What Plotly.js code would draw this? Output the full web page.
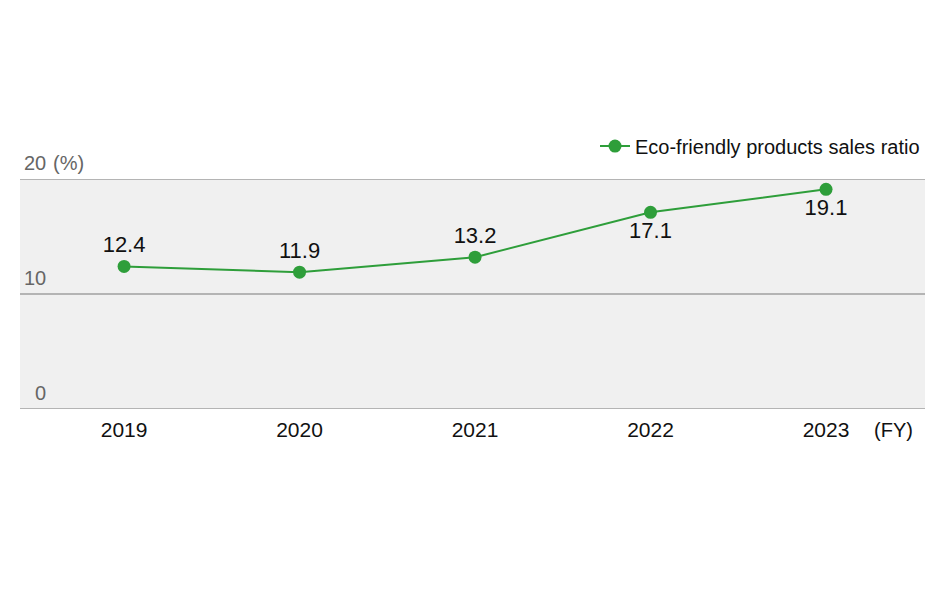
<!DOCTYPE html>
<html><head><meta charset="utf-8">
<script src="https://cdn.plot.ly/plotly-3.0.1.min.js"></script>
<style>body{margin:0;background:#fff}#c{width:940px;height:600px}</style>
</head><body><div id="c"></div>
<script>
const years = ['2019','2020','2021','2022','2023'];
const ratio = [12.4, 11.9, 13.2, 17.1, 19.1];
const ratioLabels = ['12.4','11.9','13.2','17.1','19.1'];
const labelPos = ['top center','top center','top center','bottom center','bottom center'];
const yTicks = [0, 10, 20];
const yTickText = ['0', '10', '20'];
const yUnit = '(%)';
const xUnit = '(FY)';
const seriesName = 'Eco-friendly products sales ratio';
const green = '#2e9e3a';
const font = 'Liberation Sans, Arial, Helvetica, sans-serif';

const trace = {
  x: years, y: ratio, type: 'scatter', mode: 'lines+markers+text',
  name: seriesName,
  text: ratioLabels, textposition: labelPos,
  textfont: {size: 22, color: '#111', family: font},
  line: {color: green, width: 2},
  marker: {color: green, size: 13},
  hoverinfo: 'skip', cliponaxis: false
};

const shapes = yTicks.map(v => ({
  type: 'line', xref: 'paper', yref: 'y', x0: 0, x1: 1, y0: v, y1: v,
  line: {color: '#a0a0a0', width: 1.5}, layer: 'above'
}));

const lblX = 28 / 905;
const annotations = yTicks.map((v, i) => ({
  xref: 'paper', yref: 'y', x: lblX, y: v, xanchor: 'right', yanchor: 'bottom',
  yshift: 3, text: yTickText[i], showarrow: false,
  font: {size: 20, color: '#666', family: font}
}));
annotations.push({
  xref: 'paper', yref: 'y', x: lblX, y: yTicks[2], xanchor: 'left', yanchor: 'bottom',
  xshift: 3, yshift: 3, text: yUnit, showarrow: false,
  font: {size: 20, color: '#666', family: font}
});
annotations.push({
  xref: 'paper', yref: 'paper', x: 895 / 905, y: 0, xanchor: 'right', yanchor: 'top',
  yshift: -8, text: xUnit, showarrow: false,
  font: {size: 20, color: '#111', family: font}
});

const layout = {
  width: 940, height: 600,
  margin: {l: 20, r: 15, t: 179, b: 191},
  paper_bgcolor: '#fff', plot_bgcolor: '#f0f0f0',
  font: {family: font},
  showlegend: true,
  legend: {
    orientation: 'h', x: 1, xanchor: 'right', y: 1.143, yanchor: 'middle',
    yref: 'paper', font: {size: 20, color: '#111', family: font},
    itemwidth: 30, bgcolor: 'rgba(0,0,0,0)'
  },
  xaxis: {
    type: 'category', range: [-0.593, 4.564], showgrid: false, zeroline: false,
    showline: false, ticks: '', tickfont: {size: 21, color: '#111', family: font},
    ticklabelstandoff: 6, fixedrange: true
  },
  yaxis: {
    range: [0, 20], showgrid: false, zeroline: false, showline: false,
    showticklabels: false, ticks: '', fixedrange: true
  },
  shapes: shapes,
  annotations: annotations
};

Plotly.newPlot('c', [trace], layout, {displayModeBar: false, staticPlot: true});
</script>
</body></html>
